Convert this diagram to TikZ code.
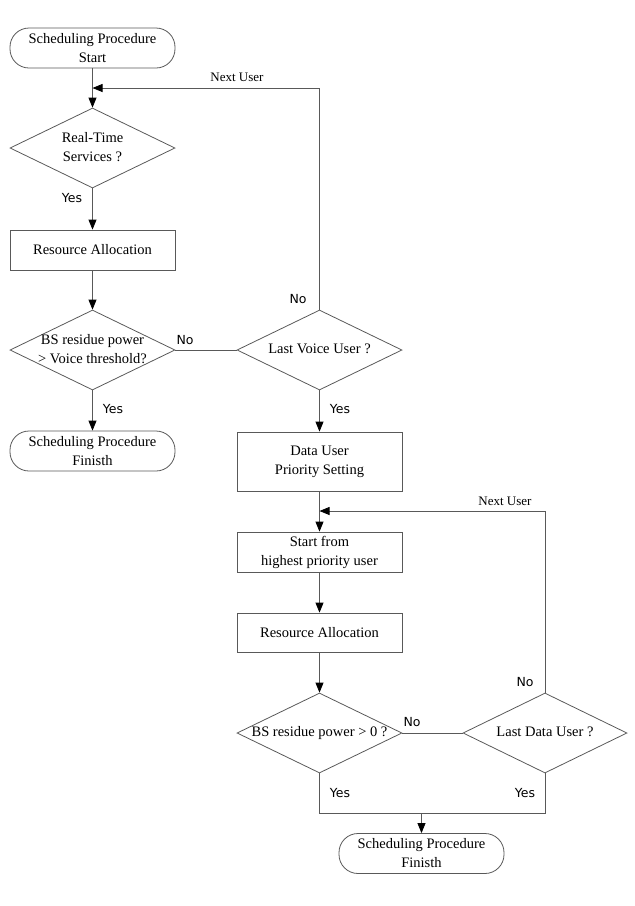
\documentclass[tikz,border=0pt]{standalone}
\usepackage{fontspec}
\setmainfont{Liberation Serif}
\newfontfamily\answerfont{DejaVu Sans}
\usetikzlibrary{arrows.meta}
\usetikzlibrary{shapes.geometric}

% text of a decision, kept out of the diamond's size
\newcommand{\dtext}[1]{\makebox[0pt]{\begin{tabular}{@{}c@{}}#1\end{tabular}}}

\begin{document}
\begin{tikzpicture}[x=1pt,y=-1pt,
		line/.style={draw=black!65, line width=0.8pt},
		arr/.style={line, -{Triangle[length=10pt,width=8pt,color=black]}},
		proc/.style={draw=black!65, line width=0.8pt, rectangle, minimum width=165pt, minimum height=40pt, inner sep=0pt, align=center, font=\fontsize{14.5}{19}\selectfont},
		term/.style={proc, rounded corners=19pt},
		decide/.style={draw=black!65, line width=0.8pt, diamond, aspect=2.05, minimum width=165pt, minimum height=80pt, inner sep=0pt, font=\fontsize{14.5}{19}\selectfont},
		answer/.style={inner sep=0pt, font=\answerfont\fontsize{12.5}{14}\selectfont},
		nextuser/.style={inner sep=0pt, font=\fontsize{13}{15}\selectfont}]
				\useasboundingbox (0,0) rectangle (635,906);
				
				% Voice users
				\node[term] (start) at (92.5,48) {Scheduling Procedure\\Start};
				\node[decide] (rt) at (92.5,148) {\dtext{Real-Time\\Services ?}};
				\node[proc] (ra1) at (92.5,250) {Resource Allocation};
				\node[decide] (bsv) at (92.5,350) {\dtext{BS residue power\\> Voice threshold?}};
				\node[term] (fin1) at (92.5,451) {Scheduling Procedure\\Finisth};
				\node[decide] (lvu) at (319.5,350) {\dtext{Last Voice User ?}};
				\coordinate (vjoin) at (92.5,88);
				
				% Data users
				\node[proc, minimum height=59pt] (dup) at (319.5,461.5) {Data User\\Priority Setting};
				\node[proc] (sfh) at (319.5,552) {Start from\\highest priority user};
				\node[proc, minimum height=39pt] (ra2) at (319.5,632.5) {Resource Allocation};
				\node[decide] (bsz) at (319.5,733) {\dtext{BS residue power > 0 ?}};
				\node[decide, minimum width=164pt] (ldu) at (545,733) {\dtext{Last Data User ?}};
				\node[term] (fin2) at (421.5,853.5) {Scheduling Procedure\\Finisth};
				\coordinate (djoin) at (319.5,511);
				\coordinate (merge) at (421.5,813);
				
				% Connectors
				\draw[arr] (start) -- (rt);
				\draw[arr] (rt) -- (ra1);
				\draw[arr] (ra1) -- (bsv);
				\draw[arr] (bsv) -- (fin1);
				\draw[line] (bsv.east) -- (lvu.west);
				\draw[arr] (lvu.north) |- (vjoin);
				\draw[arr] (lvu) -- (dup);
				\draw[arr] (dup) -- (sfh);
				\draw[arr] (sfh) -- (ra2);
				\draw[arr] (ra2) -- (bsz);
				\draw[line] (bsz.east) -- (ldu.west);
				\draw[arr] (ldu.north) |- (djoin);
				\draw[line] (bsz.south) |- (merge) -| (ldu.south);
				\draw[arr] (merge) -- (fin2);
				
				% Labels
				\node[nextuser] (nu1) at (237,77) {Next User};
				\node[nextuser] (nu2) at (505,501) {Next User};
				\node[answer] (y1) at (72,198) {Yes};
				\node[answer] (n1) at (185,340) {No};
				\node[answer] (n2) at (298,299) {No};
				\node[answer] (y2) at (113,409) {Yes};
				\node[answer] (y3) at (340,409) {Yes};
				\node[answer] (n3) at (525,682) {No};
				\node[answer] (n4) at (412,722) {No};
				\node[answer] (y4) at (340,793) {Yes};
				\node[answer] (y5) at (525,793) {Yes};
			\end{tikzpicture}
\end{document}
